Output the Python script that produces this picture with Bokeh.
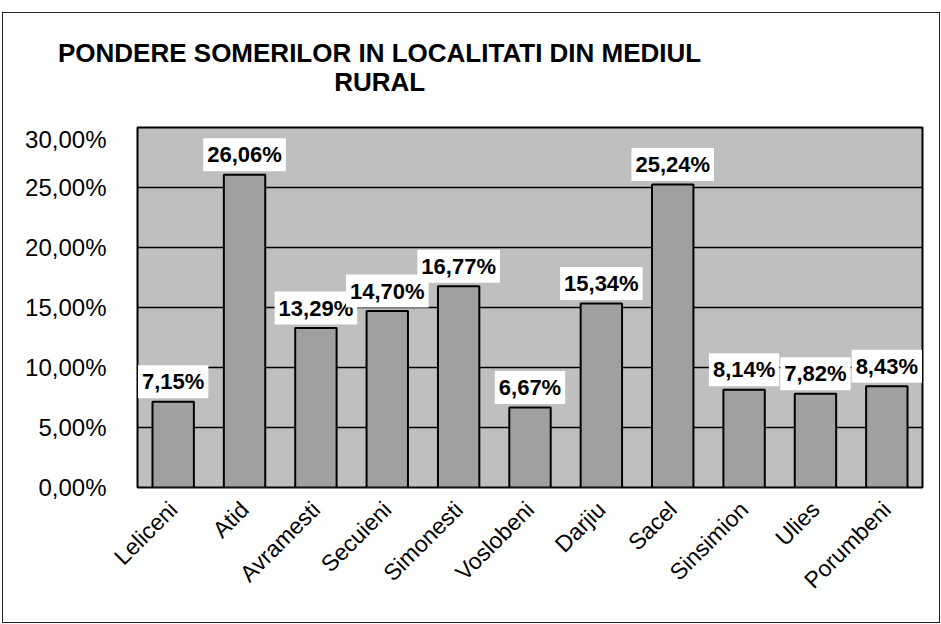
import math
from bokeh.plotting import figure
from bokeh.models import ColumnDataSource, LabelSet, FixedTicker, FactorRange, Div
from bokeh.layouts import column
from bokeh.core.properties import value
from bokeh.embed import file_html
from bokeh.resources import INLINE

categories = ["Leliceni", "Atid", "Avramesti", "Secuieni", "Simonesti", "Voslobeni",
              "Darjiu", "Sacel", "Sinsimion", "Ulies", "Porumbeni"]
values = [7.15, 26.06, 13.29, 14.70, 16.77, 6.67, 15.34, 25.24, 8.14, 7.82, 8.43]
y_ticks = [0, 5, 10, 15, 20, 25, 30]
y_tick_labels = ["0,00%", "5,00%", "10,00%", "15,00%", "20,00%", "25,00%", "30,00%"]
title_lines = ["PONDERE SOMERILOR IN LOCALITATI DIN MEDIUL", "RURAL"]

labels = [("%.2f" % v).replace(".", ",") + "%" for v in values]
src = ColumnDataSource(dict(cat=categories, val=values, lab=labels))

FONT = "Liberation Sans"

title_div = Div(
    text=('<div style="padding-top:21px;position:relative;left:50px;text-align:center;'
          "font-family:'Liberation Sans',Arial,sans-serif;font-size:26px;"
          'font-weight:bold;line-height:29px;color:black;">'
          + "<br>".join(title_lines) + "</div>"),
    width=926, height=102)

p = figure(width=936, height=497, output_backend="svg", toolbar_location=None,
           x_range=FactorRange(*categories, range_padding=0), y_range=(0, y_ticks[-1]),
           min_border_left=134, min_border_right=17, min_border_top=2,
           min_border_bottom=135)
p.title.visible = False

p.background_fill_color = "#bfbfbf"
p.border_fill_color = "white"
p.outline_line_color = "black"
p.outline_line_width = 2

p.vbar(x="cat", top="val", width=0.58, source=src, fill_color="#a0a0a0",
       line_color="black", line_width=2)

p.ygrid.ticker = FixedTicker(ticks=y_ticks)
p.ygrid.grid_line_color = "black"
p.ygrid.grid_line_width = 1.5
p.xgrid.grid_line_color = None

p.yaxis.ticker = FixedTicker(ticks=y_ticks)
p.yaxis.major_label_overrides = {t: l for t, l in zip(y_ticks, y_tick_labels)}
p.yaxis.major_label_text_font = FONT
p.yaxis.major_label_text_font_size = "24px"
p.yaxis.major_label_text_color = "black"
p.yaxis.axis_line_color = None
p.yaxis.major_tick_line_color = None
p.yaxis.minor_tick_line_color = None
p.yaxis.major_label_standoff = 25

p.xaxis.major_label_orientation = math.pi / 4
p.xaxis.major_label_text_font = FONT
p.xaxis.major_label_text_font_size = "23px"
p.xaxis.major_label_text_color = "black"
p.xaxis.axis_line_color = None
p.xaxis.major_tick_line_color = None
p.xaxis.minor_tick_line_color = None
p.xaxis.major_label_standoff = 12

lbls = LabelSet(x="cat", y="val", text="lab", source=src, text_align="center",
                text_baseline="middle", y_offset=20, text_font=value(FONT),
                text_font_size=value("22px"), text_font_style=value("bold"),
                text_color="black", background_fill_color="white",
                border_line_color="white", border_line_width=8,
                border_line_join="miter")
p.add_layout(lbls)

layout = column(title_div, p, spacing=0,
                styles={"border": "1px solid #222222", "margin": "12px 0 0 2px",
                        "background-color": "white"})

open("out.html", "w").write(file_html(layout, INLINE))
